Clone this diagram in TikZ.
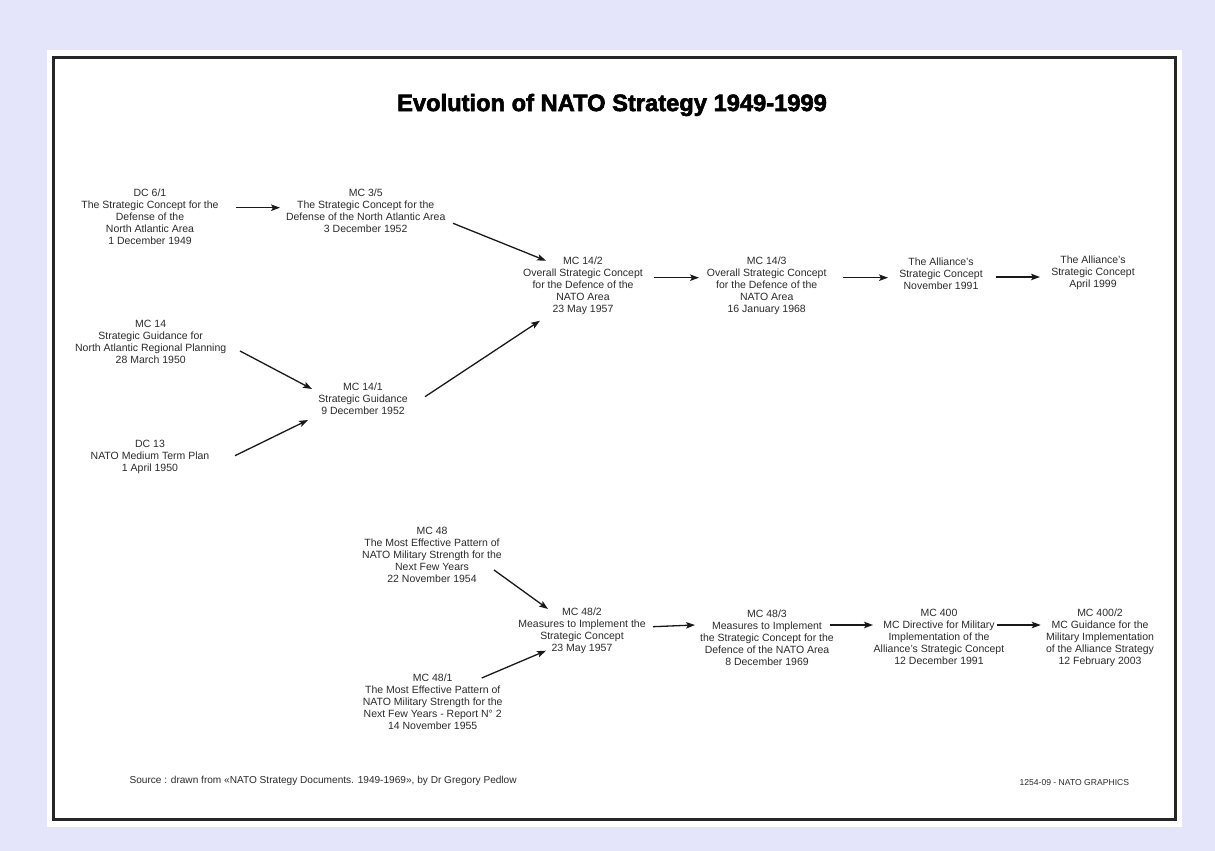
\documentclass[tikz,border=0pt]{standalone}
\usepackage{fontspec}
\setmainfont{Liberation Sans}
\newfontfamily\titlefont{Liberation Sans}[BoldFeatures={FakeBold=2.5}]
\usetikzlibrary{arrows.meta}
\definecolor{natolav}{HTML}{E4E4FA}
\definecolor{natotext}{HTML}{2B2B2B}

\begin{document}
\begin{tikzpicture}[x=1pt,y=1pt,
    doc/.style={align=center,font=\fontsize{10.5}{12}\selectfont,text=natotext,inner sep=0pt},
    arr/.style={-{Stealth[length=9pt,width=6.5pt,inset=2pt]},line width=1.3pt,black!90}]
    % frame
    \fill[natolav] (0,0) rectangle (1215,851);
    \fill[white] (47,24) rectangle (1182,801);
    \draw[line width=3pt,black!85] (53,31) rectangle (1175,793);
    \node[font=\titlefont\bfseries\fontsize{23.7}{26}\selectfont] (title) at (612,746) {Evolution of NATO Strategy 1949-1999};
    % upper line
    \node[doc] (dc61) at (150,634.3) {DC 6/1\\The Strategic Concept for the\\Defense of the\\North Atlantic Area\\1 December 1949};
    \node[doc] (mc35) at (365.7,640.5) {MC 3/5\\The Strategic Concept for the\\Defense of the North Atlantic Area\\3 December 1952};
    \node[doc] (mc14) at (150.7,509.5) {MC 14\\Strategic Guidance for\\North Atlantic Regional Planning\\28 March 1950};
    \node[doc] (mc141) at (363,452.3) {MC 14/1\\Strategic Guidance\\9 December 1952};
    \node[doc] (dc13) at (150,394) {DC 13\\NATO Medium Term Plan\\1 April 1950};
    \node[doc] (mc142) at (583,565.7) {MC 14/2\\Overall Strategic Concept\\for the Defence of the\\NATO Area\\23 May 1957};
    \node[doc] (mc143) at (766.7,565.7) {MC 14/3\\Overall Strategic Concept\\for the Defence of the\\NATO Area\\16 January 1968};
    \node[doc] (al91) at (941,577) {The Alliance's\\Strategic Concept\\November 1991};
    \node[doc] (al99) at (1093,578.5) {The Alliance's\\Strategic Concept\\April 1999};
    % lower line
    \node[doc] (mc48) at (432,296) {MC 48\\The Most Effective Pattern of\\NATO Military Strength for the\\Next Few Years\\22 November 1954};
    \node[doc] (mc481) at (432.7,149) {MC 48/1\\The Most Effective Pattern of\\NATO Military Strength for the\\Next Few Years - Report N° 2\\14 November 1955};
    \node[doc] (mc482) at (582,220) {MC 48/2\\Measures to Implement the\\Strategic Concept\\23 May 1957};
    \node[doc] (mc483) at (767,213.7) {MC 48/3\\Measures to Implement\\the Strategic Concept for the\\Defence of the NATO Area\\8 December 1969};
    \node[doc] (mc400) at (939,213.7) {MC 400\\MC Directive for Military\\Implementation of the\\Alliance's Strategic Concept\\12 December 1991};
    \node[doc] (mc4002) at (1100,213.7) {MC 400/2\\MC Guidance for the\\Military Implementation\\of the Alliance Strategy\\12 February 2003};
    % footer
    \node[anchor=west,font=\fontsize{10.1}{11}\selectfont,text=natotext] (source) at (126,70.3) {Source : drawn from «NATO Strategy Documents. 1949-1969», by Dr Gregory Pedlow};
    \node[anchor=west,font=\fontsize{8.6}{10}\selectfont,text=natotext] (credit) at (1016,68) {1254-09 - NATO GRAPHICS};
    % arrows
    \draw[arr] ([shift={(85.7,9)}]dc61.center) -- ([shift={(-85.7,2.8)}]mc35.center);
    \draw[arr] ([shift={(87.3,-12.8)}]mc35.center) -- ([shift={(-37,24.6)}]mc142.center);
    \draw[arr] ([shift={(89.3,-9.5)}]mc14.center) -- ([shift={(-51,9.7)}]mc141.center);
    \draw[arr] ([shift={(85,1.3)}]dc13.center) -- ([shift={(-55,-21.3)}]mc141.center);
    \draw[arr] ([shift={(62,2)}]mc141.center) -- ([shift={(-43,-35.4)}]mc142.center);
    \draw[arr] ([shift={(71,7.6)}]mc142.center) -- ([shift={(-67.7,7.6)}]mc143.center);
    \draw[arr] ([shift={(76.3,7.6)}]mc143.center) -- ([shift={(-53,-3.7)}]al91.center);
    \draw[arr] ([shift={(54.7,-3)}]al91.center) -- ([shift={(-53,-4.5)}]al99.center);
    \draw[arr] ([shift={(62,-15)}]mc48.center) -- ([shift={(-34,22)}]mc482.center);
    \draw[arr] ([shift={(49,24)}]mc481.center) -- ([shift={(-36,-19.7)}]mc482.center);
    \draw[arr] ([shift={(71,4.3)}]mc482.center) -- ([shift={(-72,12.3)}]mc483.center);
    \draw[arr] ([shift={(63,12.3)}]mc483.center) -- ([shift={(-66,12.3)}]mc400.center);
    \draw[arr] ([shift={(57.7,12.3)}]mc400.center) -- ([shift={(-59.3,12.3)}]mc4002.center);
\end{tikzpicture}
\end{document}
